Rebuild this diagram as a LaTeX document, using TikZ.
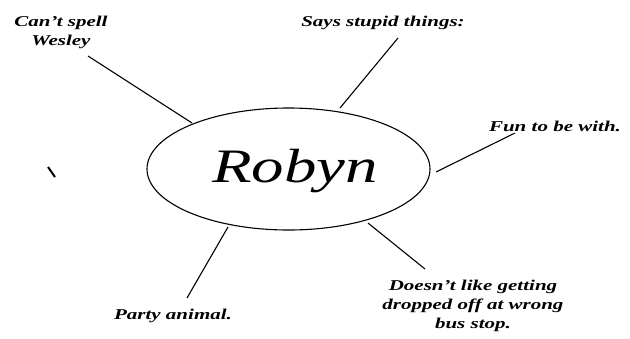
\documentclass[tikz,border=0pt]{standalone}
\usepackage{fontspec}
\setmainfont{Liberation Serif}
\usetikzlibrary{shapes.geometric}
\begin{document}
\begin{tikzpicture}[x=1pt,y=-1pt,
  spoke/.style={draw=black,line width=1.1pt},
  lbl/.style={font=\fontsize{15}{19}\selectfont\bfseries\itshape\addfontfeatures{FakeStretch=1.4},align=center,inner sep=0pt},
  hub/.style={ellipse,draw=black,line width=1.1pt,minimum width=283pt,minimum height=122pt,inner sep=0pt}]
\useasboundingbox[fill=white] (0,0) rectangle (630,338);
\node[hub] (c) at (288.5,169) {};
\node[inner sep=0pt] (name) at (295,171) {\fontsize{48}{48}\selectfont\itshape\addfontfeatures{FakeStretch=1.35}Robyn};
% labels
\node[lbl] (l1) at (61,32) {Can't spell\\Wesley};
\node[lbl] (l2) at (383,23) {Says stupid things:};
\node[lbl] (l3) at (555,126) {Fun to be with.};
\node[lbl] (l4) at (473,306) {Doesn't like getting\\dropped off at wrong\\bus stop.};
\node[lbl] (l5) at (173,316) {Party animal.};
% spoke end points
\coordinate (a1) at (88,56);   \coordinate (b1) at (192,123);
\coordinate (a2) at (398,38);  \coordinate (b2) at (340,108);
\coordinate (a3) at (515,133); \coordinate (b3) at (436,172);
\coordinate (a4) at (425,269); \coordinate (b4) at (368,223);
\coordinate (a5) at (187,298); \coordinate (b5) at (228,227);
\draw[spoke] (a1) -- (b1);
\draw[spoke] (a2) -- (b2);
\draw[spoke] (a3) -- (b3);
\draw[spoke] (a4) -- (b4);
\draw[spoke] (a5) -- (b5);
% stray mark
\coordinate (m1) at (48,167); \coordinate (m2) at (55,177);
\draw[line width=2pt] (m1) -- (m2);
\end{tikzpicture}
\end{document}
